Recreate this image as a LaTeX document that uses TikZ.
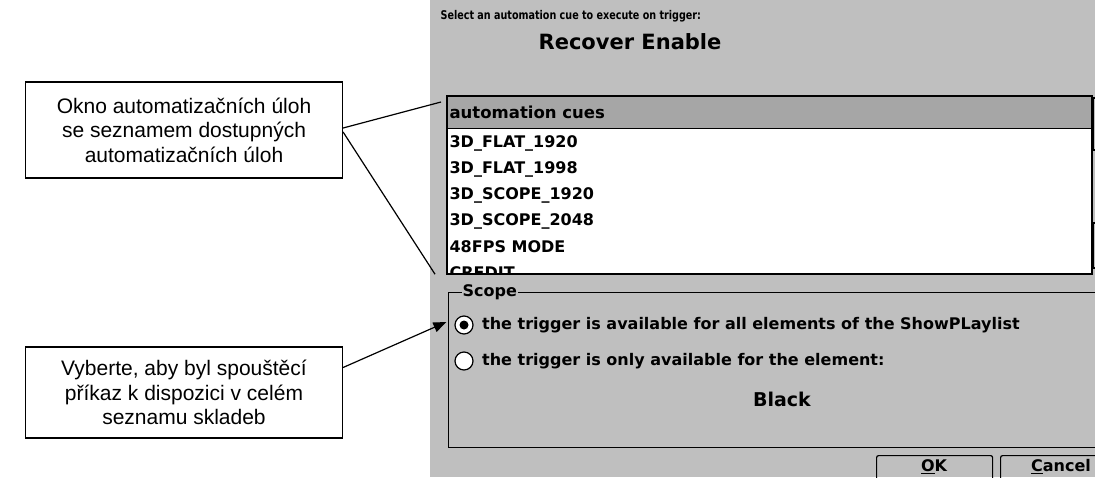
\documentclass[tikz,border=0pt]{standalone}
\usepackage{fontspec}
\usepackage{graphicx}
\setmainfont{Liberation Sans}
\newfontfamily\uifont{DejaVu Sans}
\usetikzlibrary{shapes,arrows.meta,positioning}

\tikzset{
    cue/.style={anchor=west, inner sep=2pt, font=\uifont\bfseries\fontsize{16}{18}\selectfont},
    callout/.style={draw, fill=white, align=center, minimum width=317, font=\fontsize{21}{24.5}\selectfont},
    radio/.style={draw, circle, fill=white, minimum size=18, inner sep=0}
}

\begin{document}
\begin{tikzpicture}[x=1pt, y=-1pt, line width=1.2pt]
    \useasboundingbox (0,0) rectangle (1095,477);

    % Dialog background
    \fill[black!25] (430,0) rectangle (1095,477);

    % Title
    \node[anchor=west, inner sep=0, font=\uifont\bfseries\fontsize{12}{14}\selectfont] (prompt) at (440,16) {\scalebox{0.8}[1]{Select an automation cue to execute on trigger:}};
    \node[inner sep=0, font=\uifont\bfseries\fontsize{21}{24}\selectfont] (trigger) at (630,42) {Recover Enable};

    % Cue list
    \node[draw, fill=white, anchor=north west, minimum width=644, minimum height=177] (list) at (447,96) {};
    \node[draw, fill=black!35, anchor=north west, minimum width=644, minimum height=32] (head) at (list.north west) {};
    \node[cue, font=\uifont\bfseries\fontsize{16.5}{18}\selectfont] (headtext) at (head.west) {automation cues};
    \draw (1093,98) rectangle (1102,150);
    \draw (1093,223) rectangle (1102,268);

    \begin{scope}
        \clip (447,128) rectangle (1091,273);
        \node[cue] (cue1) at (447,143) {3D\_FLAT\_1920};
        \node[cue] (cue2) at (447,169) {3D\_FLAT\_1998};
        \node[cue] (cue3) at (447,195) {3D\_SCOPE\_1920};
        \node[cue] (cue4) at (447,221) {3D\_SCOPE\_2048};
        \node[cue] (cue5) at (447,247) {48FPS MODE};
        \node[cue] (cue6) at (447,273) {CREDIT};
    \end{scope}
    \draw (list.north west) rectangle (list.south east);

    % Scope group
    \node[draw, anchor=north west, minimum width=700, minimum height=155] (scope) at (448,292) {};
    \node[cue, fill=black!25, inner sep=1pt] (scopetext) at (461,292) {Scope};

    \node[radio] (radioall) at (464,325) {};
    \fill (radioall) circle (4.5);
    \node[cue] (alltext) at ([xshift=6pt]radioall.east) {the trigger is available for all elements of the ShowPLaylist};
    \node[radio] (radioone) at (464,361) {};
    \node[cue] (onetext) at ([xshift=6pt]radioone.east) {the trigger is only available for the element:};
    \node[font=\uifont\bfseries\fontsize{19}{21}\selectfont] (element) at (782,399) {Black};

    % Buttons
    \node[draw, rounded corners=2pt, anchor=north west, minimum width=116, minimum height=32] (ok) at (876,455) {};
    \node[font=\uifont\bfseries\fontsize{16}{18}\selectfont] (oktext) at (934,467) {\underline{O}K};
    \node[draw, rounded corners=2pt, anchor=north west, minimum width=110, minimum height=32] (cancel) at (1000,455) {};
    \node[font=\uifont\bfseries\fontsize{16}{18}\selectfont] (canceltext) at (1061,467) {\underline{C}ancel};

    % Callouts
    \node[callout, minimum height=96] (cuenote) at (184,130) {Okno automatizačních úloh\\se seznamem dostupných\\automatizačních úloh};
    \node[callout, minimum height=91] (scopenote) at (184,392.5) {Vyberte, aby byl spouštěcí\\příkaz k dispozici v celém\\seznamu skladeb};

    \draw ([yshift=2pt]cuenote.east) -- ([xshift=-6pt, yshift=-6pt]list.north west);
    \draw ([yshift=-2pt]cuenote.east) -- ([xshift=-12pt]list.south west);
    \draw[-{Triangle[length=13pt, width=10pt]}] ([yshift=25pt]scopenote.east) -- ([xshift=-8pt, yshift=3pt]radioall.west);

\end{tikzpicture}
\end{document}
